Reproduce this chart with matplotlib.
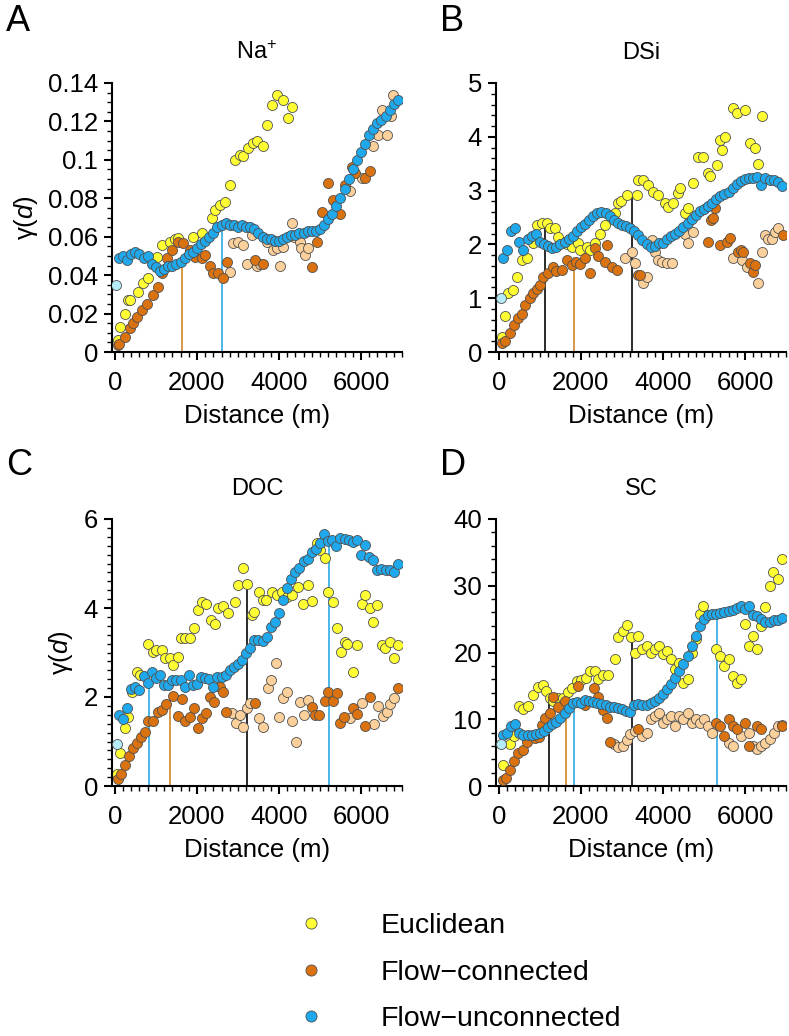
import matplotlib
matplotlib.use("Agg")
from matplotlib import pyplot as plt
from matplotlib.ticker import MultipleLocator, FuncFormatter
from matplotlib.lines import Line2D

plt.rcParams['font.family'] = ['Liberation Sans', 'DejaVu Sans']
plt.rcParams['mathtext.fontset'] = 'custom'
plt.rcParams['mathtext.rm'] = 'Liberation Sans'
plt.rcParams['mathtext.it'] = 'Liberation Sans:italic'

# lag bins of the flow-unconnected semivariogram (m)
lag_bins = [100, 200, 300, 400, 500, 600, 700, 800, 900, 1000,
            1100, 1200, 1300, 1400, 1500, 1600, 1700, 1800, 1900, 2000,
            2100, 2200, 2300, 2400, 2500, 2600, 2700, 2800, 2900, 3000,
            3100, 3200, 3300, 3400, 3500, 3600, 3700, 3800, 3900, 4000,
            4100, 4200, 4300, 4400, 4500, 4600, 4700, 4800, 4900, 5000,
            5100, 5200, 5300, 5400, 5500, 5600, 5700, 5800, 5900, 6000,
            6100, 6200, 6300, 6400, 6500, 6600, 6700, 6800, 6900]

# ---------------- A: Na+ ----------------
na_euc_x = [80, 120, 240, 320, 370, 560, 680, 800, 1020, 1150, 1340, 1460, 1540, 1900, 2120, 2370, 2440,
            2560, 2680, 2800, 2930, 3050, 3130, 3240, 3370, 3460, 3610, 3710, 3830, 3950, 4100, 4220, 4310]
na_euc_y = [.006, .013, .020, .027, .027, .031, .036, .0385, .0495, .0557, .057, .059, .0595, .060, .062, .070, .074,
            .0765, .078, .087, .100, .1025, .102, .106, .109, .110, .107, .118, .1285, .134, .131, .122, .1275]
na_con_x = [70, 100, 240, 370, 440, 530, 660, 780, 930, 1050, 1150, 1270, 1390, 1540, 1660, 1830, 1950, 2120, 2200,
            2320, 2390, 2510, 2630, 2730, 3410, 3610, 4800, 4920, 5050, 5200, 5320, 5490, 5610, 5780, 5850, 6100, 6220]
na_con_y = [.0035, .004, .008, .0125, .015, .018, .022, .025, .0297, .034, .041, .049, .053, .057, .0567, .053, .0495,
            .049, .0505, .045, .041, .041, .0385, .047, .048, .046, .044, .057, .073, .088, .079, .072, .087, .0965,
            .093, .0905, .094]
na_few_x = [2800, 2880, 3000, 3120, 3220, 3340, 3460, 3540, 3700, 3850, 3950, 4020, 4100, 4310, 4370, 4510, 4540,
            4630, 4710, 5730, 6020, 6290, 6410, 6510, 6630, 6730, 6780]
na_few_y = [.0417, .0567, .057, .0557, .046, .061, .045, .046, .057, .053, .054, .045, .0547, .067, .060, .057, .054,
            .0505, .054, .084, .0905, .107, .113, .126, .113, .123, .134]
na_unc_y = [.049, .050, .048, .051, .052, .051, .049, .050, .046, .044, .042, .043, .045, .045, .046, .047, .049,
            .051, .052, .054, .056, .058, .060, .062, .065, .066, .067, .066, .066, .065, .066, .065, .065, .064,
            .062, .060, .059, .059, .058, .058, .059, .060, .061, .061, .062, .062, .063, .063, .063, .064, .066,
            .069, .072, .076, .080, .085, .090, .095, .100, .104, .108, .113, .116, .119, .121, .123, .126, .129, .131]
na_first = (30, .035)
na_ranges = [(1630, .044, 'orange'), (2610, .065, 'blue')]

# ---------------- B: DSi ----------------
dsi_euc_x = [70, 150, 220, 340, 440, 560, 680, 830, 930, 1050, 1170, 1240, 1370, 1440, 1660, 1780, 1930, 1980,
             2150, 2220, 2340, 2460, 2590, 2830, 2900, 2980, 3120, 3370, 3390, 3510, 3630, 3760, 3880, 4050, 4120,
             4240, 4370, 4420, 4540, 4610, 4730, 4850, 4980, 5100, 5150, 5320, 5390, 5510, 5450, 5710, 5800, 6000,
             6120, 6240, 6320, 6410]
dsi_euc_y = [0.28, 0.67, 1.1, 1.15, 1.4, 1.71, 1.75, 2.02, 2.36, 2.4, 2.4, 2.3, 2.3, 2.14, 2.0, 1.95, 2.02, 1.9,
             1.95, 1.9, 2.02, 2.2, 2.36, 2.58, 2.77, 2.8, 2.92, 2.92, 3.2, 3.2, 3.1, 2.97, 2.92, 2.77, 2.7,
             2.77, 2.95, 3.05, 2.58, 2.67, 3.14, 3.62, 3.62, 3.33, 3.27, 3.47, 3.94, 4.0, 3.75, 4.53, 4.44, 4.5,
             3.88, 3.79, 3.5, 4.39]
dsi_con_x = [70, 150, 270, 370, 460, 560, 630, 760, 830, 930, 1000, 1070, 1200, 1320, 1390, 1540, 1660, 1780, 1880,
             1980, 2100, 2220, 2340, 2420, 2590, 2630, 2760, 2880, 3390, 3440, 5100, 5170, 5220, 5270, 5390, 5560,
             5630, 5830, 5900, 5950, 6120, 6190, 6240, 6930]
dsi_con_y = [0.17, 0.2, 0.35, 0.5, 0.63, 0.7, 0.87, 1.0, 1.1, 1.17, 1.25, 1.4, 1.47, 1.58, 1.5, 1.52, 1.71, 1.62,
             1.67, 1.63, 1.75, 1.47, 1.93, 1.78, 1.67, 1.99, 1.58, 1.52, 1.43, 1.43, 2.05, 2.45, 2.5, 2.67, 1.99,
             2.05, 2.12, 1.86, 1.9, 1.86, 1.65, 1.49, 1.62, 2.17]
dsi_few_x = [3070, 3240, 3320, 3510, 3610, 3730, 3800, 3880, 3970, 4100, 4220, 4540, 4610, 4730, 5710, 5930, 6050,
             6320, 6410, 6490, 6570, 6660, 6730, 6800]
dsi_few_y = [1.75, 1.86, 1.65, 1.28, 1.39, 2.08, 1.86, 1.71, 1.67, 1.65, 1.65, 2.2, 2.02, 2.23, 1.75, 1.71, 1.58,
             1.28, 1.86, 2.17, 2.1, 2.1, 2.23, 2.3]
dsi_unc_y = [1.75, 1.9, 2.25, 2.3, 2.05, 1.9, 2.1, 2.15, 2.2, 2.05, 2.0, 1.97, 1.94, 1.95, 2.0, 2.05, 2.1, 2.15,
             2.25, 2.32, 2.38, 2.45, 2.52, 2.58, 2.6, 2.58, 2.52, 2.46, 2.4, 2.36, 2.35, 2.3, 2.24, 2.18, 2.08,
             2.0, 1.96, 1.97, 2.02, 2.02, 2.1, 2.15, 2.2, 2.25, 2.32, 2.4, 2.48, 2.55, 2.62, 2.66, 2.72, 2.77,
             2.84, 2.9, 2.94, 2.98, 3.05, 3.12, 3.18, 3.21, 3.23, 3.23, 3.25, 3.1, 3.23, 3.2, 3.2, 3.16, 3.08]
dsi_first = (50, 1.0)
dsi_ranges = [(1120, 2.4, 'black'), (1830, 1.75, 'orange'), (3240, 2.88, 'black')]

# ---------------- C: DOC ----------------
doc_euc_x = [45, 120, 240, 320, 410, 530, 610, 800, 930, 1000, 1150, 1220, 1340, 1410, 1540, 1610, 1710, 1830,
             1930, 2020, 2120, 2220, 2340, 2440, 2510, 2630, 2760, 2930, 3000, 3120, 3220, 3340, 3400, 3510,
             3610, 3690, 3830, 3950, 4070, 4190, 4310, 4460, 4590, 4710, 4800, 4920, 5000, 5120, 5200, 5320,
             5410, 5510, 5610, 5660, 5800, 5900, 6020, 6100, 6220, 6290, 6390, 6510, 6580, 6710, 6800, 6900]
doc_euc_y = [0.27, 0.74, 1.3, 1.55, 2.11, 2.56, 2.5, 3.19, 3.01, 3.05, 3.06, 2.88, 2.88, 2.72, 2.9, 3.33, 3.33, 3.33,
             3.55, 3.96, 4.13, 4.1, 3.73, 3.64, 4.0, 4.05, 3.89, 4.13, 4.52, 4.9, 4.54, 3.85, 3.9, 4.36,
             4.18, 4.18, 4.36, 4.29, 4.36, 4.25, 4.3, 4.47, 4.09, 4.52, 4.16, 5.46, 5.3, 5.12, 4.36, 4.13,
             3.55, 3.01, 3.24, 3.2, 2.56, 3.17, 4.09, 4.29, 4.0, 3.69, 4.07, 3.17, 3.1, 3.24, 2.88, 3.17]
doc_con_x = [70, 150, 240, 340, 440, 530, 630, 730, 800, 930, 1050, 1150, 1240, 1410, 1540, 1630, 1710, 1830, 1930,
             2020, 2120, 2220, 2320, 2410, 2560, 2630, 2710, 3410, 4800, 4880, 4980, 5120, 5200, 5320, 5410, 5490,
             5590, 5800, 5900, 6100, 6220, 6900]
doc_con_y = [0.16, 0.27, 0.47, 0.67, 0.85, 0.97, 1.1, 1.21, 1.46, 1.46, 1.66, 1.7, 1.84, 2.02, 1.57, 1.96, 1.46, 1.55,
             1.75, 1.3, 1.53, 1.64, 2.0, 1.89, 2.22, 2.11, 1.66, 1.87, 1.78, 1.6, 1.6, 1.91, 2.11, 1.91, 2.09, 1.42,
             1.55, 1.75, 1.62, 1.35, 2.0, 2.2]
doc_few_x = [2850, 2950, 3050, 3120, 3220, 3290, 3510, 3610, 3730, 3800, 3930, 4000, 4100, 4190, 4310, 4410, 4510,
             4610, 4710, 5730, 6020, 6310, 6420, 6540, 6630, 6710, 6800]
doc_few_y = [1.64, 1.42, 1.6, 1.33, 1.75, 1.87, 1.53, 1.33, 2.2, 2.38, 2.76, 1.55, 1.98, 2.11, 1.46, 0.99, 1.89,
             1.6, 1.93, 1.53, 1.87, 1.39, 1.8, 1.57, 1.66, 1.84, 1.98]
doc_unc_y = [1.6, 1.5, 1.75, 2.18, 2.22, 2.15, 2.47, 2.31, 2.56, 2.43, 2.49, 2.27, 2.27, 2.38, 2.38, 2.38, 2.22,
             2.49, 2.27, 2.3, 2.45, 2.43, 2.4, 2.22, 2.45, 2.45, 2.5, 2.6, 2.67, 2.74, 2.83, 2.99, 3.1, 3.28,
             3.28, 3.26, 3.35, 3.57, 3.69, 3.89, 4.18, 4.45, 4.65, 4.8, 4.9, 5.05, 5.1, 5.25, 5.32, 5.46, 5.66,
             5.5, 5.52, 5.39, 5.57, 5.56, 5.52, 5.48, 5.53, 5.19, 5.42, 5.15, 5.08, 4.85, 4.87, 4.86, 4.86, 4.8, 5.0]
doc_first = (45, 0.94)
doc_ranges = [(830, 2.31, 'blue'), (1340, 1.93, 'orange'), (3220, 4.52, 'black'), (5220, 5.57, 'blue')]

# ---------------- D: SC ----------------
sc_euc_x = [100, 270, 370, 490, 580, 710, 830, 950, 1070, 1150, 1240, 1320, 1440, 1560, 1680, 1780, 1900, 2000,
            2120, 2220, 2340, 2410, 2540, 2660, 2830, 2900, 3020, 3120, 3220, 3320, 3400, 3500, 3600, 3700, 3800,
            3900, 4000, 4100, 4200, 4300, 4400, 4500, 4600, 4700, 4800, 4900, 4980, 5300, 5400, 5500, 5600, 5700,
            5800, 5900, 6000, 6100, 6200, 6300, 6400, 6490, 6610, 6680, 6800, 6900]
sc_euc_y = [3.2, 6.3, 7.5, 12.0, 11.6, 12.0, 13.7, 14.9, 15.2, 14.2, 13.2, 12.8, 13.2, 13.2, 14.1, 14.7, 15.8, 15.9,
            16.2, 17.3, 17.2, 16.1, 16.7, 16.7, 19.1, 22.3, 23.2, 24.1, 22.3, 20.0, 22.5, 20.5, 21.0, 20.0, 20.5,
            21.0, 19.8, 20.2, 19.0, 17.5, 18.5, 15.5, 16.0, 20.0, 22.0, 25.7, 26.9, 20.5, 19.5, 18.0, 19.0, 16.5,
            15.5, 16.0, 24.2, 21.0, 22.5, 20.5, 24.0, 26.8, 29.9, 32.0, 31.0, 34.0]
sc_con_x = [100, 170, 270, 370, 460, 580, 680, 880, 980, 1050, 1120, 1240, 1320, 1440, 1610, 1930, 2100, 2320, 2410,
            2540, 2630, 2700, 3400, 5300, 5400, 5500, 5600, 5700, 5800, 6000, 6100, 6300, 6400, 6900]
sc_con_y = [0.9, 1.2, 2.4, 3.8, 5.0, 5.4, 6.6, 7.2, 7.4, 9.2, 10.2, 11.0, 13.4, 11.9, 12.8, 15.0, 12.2, 14.7, 13.4,
            11.4, 10.2, 6.6, 8.5, 9.5, 9.0, 7.5, 10.0, 9.0, 8.5, 9.5, 6.0, 9.0, 8.5, 9.0]
sc_few_x = [2800, 2900, 3020, 3120, 3200, 3320, 3500, 3600, 3700, 3800, 3900, 4000, 4100, 4200, 4300, 4400, 4500,
            4600, 4700, 4800, 4900, 5000, 5100, 5200, 5600, 5700, 5900, 6100, 6200, 6300, 6400, 6500, 6600, 6700,
            6800, 6900]
sc_few_y = [6.3, 5.9, 6.0, 6.9, 7.8, 8.3, 7.5, 8.0, 10.0, 10.5, 11.0, 9.5, 10.0, 10.5, 9.0, 10.5, 10.0,
            11.0, 9.5, 10.0, 9.5, 10.0, 9.0, 8.0, 6.5, 6.0, 7.5, 8.0, 6.0, 5.5, 6.0, 6.5, 7.0, 8.0,
            9.0, 9.2]
sc_unc_y = [7.7, 8.0, 9.0, 9.3, 8.0, 7.7, 7.7, 7.7, 7.8, 8.0, 8.2, 8.8, 9.3, 9.6, 10.2, 11.0, 11.7, 12.4, 12.6,
            12.5, 12.9, 12.7, 12.6, 12.5, 12.3, 12.2, 11.9, 11.9, 11.7, 11.5, 11.3, 11.1, 12.2, 12.3, 12.2, 12.2,
            12.4, 12.8, 13.2, 13.8, 14.5, 15.3, 16.2, 17.2, 18.3, 19.5, 21.0, 22.5, 23.9, 25.0, 25.6, 25.8, 25.8,
            25.9, 26.1, 26.2, 26.4, 26.6, 26.9, 26.5, 26.9, 25.6, 25.4, 25.0, 24.6, 24.5, 24.8, 24.9, 25.1]
sc_first = (50, 6.3)
sc_ranges = [(1220, 13.7, 'black'), (1630, 12.6, 'orange'), (1830, 12.6, 'blue'), (3240, 21.6, 'black'),
             (5320, 26.0, 'blue')]

# colours
c_euc = '#ffff33'
c_con = '#d9720f'
c_few = '#fcd09a'
c_unc = '#1fa9ec'
c_unc_first = '#b5eaf7'
line_cols = {'orange': '#d4913c', 'blue': '#3cb2e6', 'black': '#1a1a1a'}

W, H = 789, 1036


def draw_panel(rect, title, letter, letter_pos, euc, con, few, unc_y, first, ranges, ymax, ymaj, ymin, ylabel):
    ax = plt.axes([rect[0] / W, 1 - rect[3] / H, (rect[2] - rect[0]) / W, (rect[3] - rect[1]) / H])
    kw = dict(s=52, edgecolors='#505050', linewidths=0.6)
    for x, top, col in ranges:
        ax.plot([x, x], [0, top], color=line_cols[col], lw=1.3, zorder=1)
    ax.scatter(euc[0], euc[1], c=c_euc, zorder=2, **kw)
    ax.scatter(few[0], few[1], c=c_few, zorder=3, **kw)
    ax.scatter(con[0], con[1], c=c_con, zorder=4, **kw)
    ax.scatter(lag_bins, unc_y, c=c_unc, zorder=5, **kw)
    ax.scatter([first[0]], [first[1]], c=c_unc_first, zorder=5, **kw)

    ax.set_xlim(-70, 7000)
    ax.set_ylim(0, ymax)
    ax.xaxis.set_major_locator(MultipleLocator(2000))
    ax.xaxis.set_minor_locator(MultipleLocator(200))
    ax.yaxis.set_major_locator(MultipleLocator(ymaj))
    ax.yaxis.set_minor_locator(MultipleLocator(ymin))
    ax.yaxis.set_major_formatter(FuncFormatter(lambda v, p: '%g' % round(v, 4)))
    for s in ['top', 'right']:
        ax.spines[s].set_visible(False)
    for s in ['left', 'bottom']:
        ax.spines[s].set_linewidth(1.5)
    ax.tick_params(which='major', direction='out', length=6, width=1.5, labelsize=18.5)
    ax.tick_params(axis='y', which='major', pad=4)
    ax.tick_params(axis='x', which='major', pad=8)
    ax.tick_params(which='minor', direction='out', length=3.5, width=1.0)
    ax.set_xlabel('Distance (m)', fontsize=18.5, labelpad=6)
    if ylabel:
        ax.set_ylabel('γ($\\it{d}$)', fontsize=18.5, labelpad=6)
    ax.set_title(title, fontsize=17, pad=17)
    plt.gcf().text(letter_pos[0] / W, 1 - letter_pos[1] / H, letter, fontsize=26, va='top', ha='left')
    return ax


fig = plt.figure(figsize=(W / 100, H / 100), dpi=100)

draw_panel((112, 83, 402, 352), 'Na$^{+}$', 'A', (6, 4), (na_euc_x, na_euc_y), (na_con_x, na_con_y),
           (na_few_x, na_few_y), na_unc_y, na_first, na_ranges, 0.14, 0.02, 0.005, True)
draw_panel((496, 83, 786, 352), 'DSi', 'B', (440, 4), (dsi_euc_x, dsi_euc_y), (dsi_con_x, dsi_con_y),
           (dsi_few_x, dsi_few_y), dsi_unc_y, dsi_first, dsi_ranges, 5, 1, 0.2, False)
draw_panel((112, 519, 402, 786), 'DOC', 'C', (6, 448), (doc_euc_x, doc_euc_y), (doc_con_x, doc_con_y),
           (doc_few_x, doc_few_y), doc_unc_y, doc_first, doc_ranges, 6, 2, 0.2, True)
draw_panel((496, 519, 786, 786), 'SC', 'D', (440, 448), (sc_euc_x, sc_euc_y), (sc_con_x, sc_con_y),
           (sc_few_x, sc_few_y), sc_unc_y, sc_first, sc_ranges, 40, 10, 2, False)

# legend
handles = [Line2D([], [], ls='none', marker='o', ms=8, mfc=c, mec='#505050', mew=0.6)
           for c in [c_euc, c_con, c_unc]]
fig.legend(handles, ['Euclidean', 'Flow\u2212connected', 'Flow\u2212unconnected'],
           loc='upper left', bbox_to_anchor=(290 / W, 1 - 913 / H), frameon=False, fontsize=20.5,
           handlelength=1.5, handletextpad=1.67, labelspacing=0.72, borderpad=0, borderaxespad=0)

fig.savefig('out.png', dpi=100)
